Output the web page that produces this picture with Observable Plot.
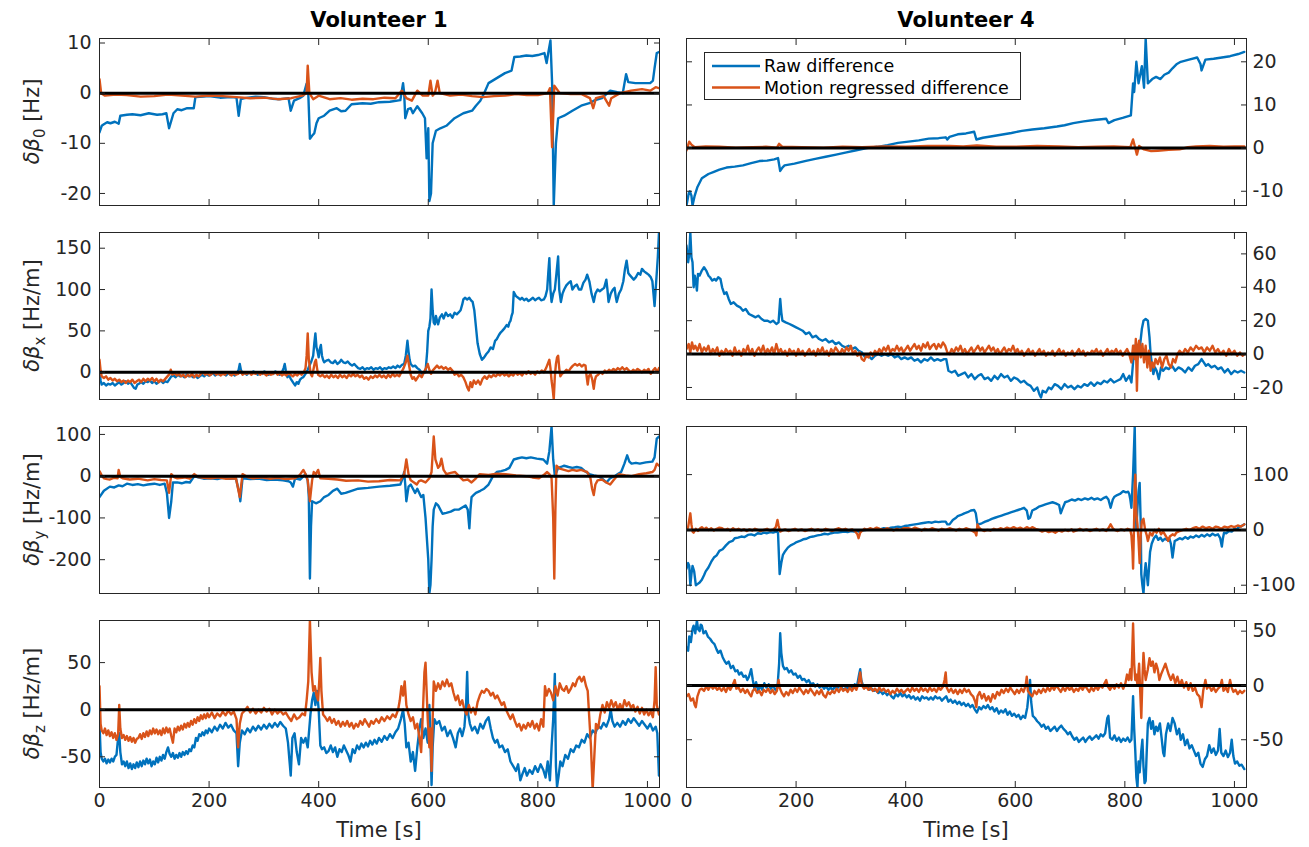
<!DOCTYPE html>
<html><head><meta charset="utf-8">
<script src="https://cdn.jsdelivr.net/npm/d3@7"></script>
<script src="https://cdn.jsdelivr.net/npm/@observablehq/plot@0.6"></script>
<style>
body{margin:0;background:#fff;}
#chart{position:relative;width:1309px;height:847px;font-family:"DejaVu Sans",sans-serif;color:#262626;overflow:hidden;}
#chart svg{position:absolute;overflow:visible;}
</style></head><body><div id="chart"></div>
<script>
// ---------- data: [time (s), value] ----------
const timeTicks = [0, 200, 400, 600, 800, 1000];
const seriesNames = ["Raw difference", "Motion regressed difference"];
const volunteers = ["Volunteer 1", "Volunteer 4"];
const yLabels = [["0", "Hz"], ["x", "Hz/m"], ["y", "Hz/m"], ["z", "Hz/m"]];

// Volunteer 1, delta beta0 [Hz]
const v1_b0_raw = [[0,-7.8],[4,-6.5],[8,-6.2],[14,-5.8],[20,-6.0],[28,-5.7],[35,-6.1],[38,-4.5],[50,-4.3],[60,-4.2],[75,-4.4],[90,-4.0],[105,-4.3],[115,-4.2],[122,-4.0],[127,-7.0],[131,-5.5],[135,-4.0],[142,-3.2],[150,-3.4],[160,-3.0],[172,-3.0],[175,-0.8],[190,-0.7],[200,-0.6],[220,-0.9],[240,-0.8],[250,-0.9],[254,-4.5],[258,-1.2],[265,-1.0],[285,-0.7],[300,-0.8],[315,-1.1],[330,-1.2],[345,-1.0],[349,-3.5],[355,-1.5],[365,-1.0],[372,-0.5],[378,1.9],[381,0],[384,-9.1],[388,-8.5],[392,-8.0],[396,-6.0],[400,-5.0],[410,-4.5],[420,-3.5],[433,-3.0],[441,-3.6],[449,-3.5],[460,-2.2],[480,-2.0],[495,-2.1],[510,-1.8],[530,-1.7],[549,-1.4],[554,2.0],[556,0],[558,-5.0],[563,-3.2],[568,-3.0],[572,-4.0],[580,-2.6],[589,-4.0],[594,-5],[597,-13],[600,-7],[602,-21.5],[605,-20],[608,-10],[614,-7.5],[622,-7],[633,-6.5],[648,-5],[664,-4],[680,-3.5],[687,-2.5],[695,-1.5],[702,0],[710,2],[725,3],[740,4],[752,4.5],[757,7.2],[768,7.3],[779,7.5],[790,7.4],[800,7.6],[812,8.0],[816,6],[819,8],[823,10.5],[826,2],[829,-22.4],[833,-10],[837,-5],[848,-4.5],[863,-3.5],[879,-2.5],[894,-2],[902,-1.5],[917,-1],[932,0.5],[945,0.2],[955,0],[961,3.8],[965,2.2],[978,2.0],[990,2.0],[1005,2.0],[1010,2.5],[1013,5],[1017,8],[1021,8.2]];
const v1_b0_reg = [[0,2.8],[3,0],[10,-0.5],[30,-0.3],[50,-0.4],[75,-0.7],[100,-0.6],[125,-0.3],[150,-0.5],[175,-0.7],[200,-0.5],[225,-0.6],[250,-0.8],[275,-1.0],[300,-0.9],[325,-1.2],[350,-1],[370,-0.5],[378,0],[380,5.5],[383,0],[390,-1.2],[400,-0.5],[420,-1.2],[440,-1.0],[460,-1.3],[480,-1.1],[500,-1.2],[520,-0.9],[540,-1.0],[552,0.5],[560,-1],[570,-1.5],[580,0.5],[590,-0.5],[600,-0.5],[604,2.5],[608,-0.5],[612,0],[617,2.5],[621,0],[640,-0.5],[660,-0.3],[680,-0.6],[700,-0.8],[720,-0.6],[740,-0.5],[760,-0.2],[780,-0.4],[800,-0.4],[818,0],[822,1],[826,-10.8],[830,1.5],[840,0],[860,-0.2],[880,-0.2],[895,-1.0],[901,-3],[906,-1],[920,-0.6],[930,-2.5],[934,-1],[950,0],[970,0.5],[990,0.8],[1005,0.5],[1015,1.2],[1021,1.0]];

// Volunteer 4, delta beta0 [Hz]
const v4_b0_raw = [[0,-13.3],[4,-10.5],[6,-10],[9,-11],[11,-13.3],[15,-11],[20,-9],[28,-7],[40,-6],[50,-5.5],[60,-5.0],[73,-4.5],[88,-4.3],[103,-4],[118,-3.5],[133,-3],[147,-2.9],[160,-2.6],[167,-2.3],[171,-5.3],[175,-4.5],[179,-4],[197,-3.6],[216,-3],[235,-2.5],[254,-2],[273,-1.5],[292,-1],[310,-0.5],[329,0],[348,0.3],[367,0.7],[386,1.2],[405,1.5],[424,1.8],[442,2.2],[460,2.3],[473,2.5],[476,2],[480,2.6],[495,3.2],[510,3.4],[525,3.8],[529,2],[541,2.4],[555,2.7],[574,3.1],[593,3.5],[612,4.0],[631,4.3],[653,4.6],[676,5],[690,5.3],[706,5.8],[725,6.2],[744,6.5],[766,6.8],[770,5.8],[781,6.5],[796,7.0],[811,7.6],[815,15],[817,13],[821,20],[825,15],[831,19],[835,14],[838,25.4],[842,15],[850,16],[857,16.5],[865,16],[872,17],[880,17.5],[887,18.5],[895,19.5],[902,20],[917,20.5],[932,21],[938,19.5],[940,18],[947,20.5],[962,20.7],[977,21],[992,21.3],[1007,21.8],[1018,22.3]];
const v4_b0_reg = [[0,-0.5],[5,1.5],[9,0.8],[15,0.2],[35,0.4],[60,0.3],[90,0.1],[120,0.2],[145,0.3],[165,0.1],[169,1.0],[175,0.3],[210,0.2],[250,0.1],[285,0.3],[320,0.2],[360,0.4],[400,0.3],[440,0.5],[480,0.5],[505,0.4],[530,0.6],[565,0.3],[600,0.3],[640,0.5],[680,0.4],[715,0.2],[750,0.3],[780,0.4],[810,0.2],[815,2],[818,0.5],[822,-1.5],[826,0.5],[835,-0.3],[848,-0.7],[860,-0.6],[880,-0.4],[900,-0.3],[915,0.2],[930,0.4],[955,0.5],[980,0.3],[1000,0.4],[1018,0.4]];

// Volunteer 1, delta beta_x [Hz/m]
const v1_bx_raw = [[0,3],[2,-10],[4,-15],[8,-13],[12,-16],[16,-14],[20,-15],[24,-13],[28,-16],[32,-14],[36,-12],[40,-15],[44,-13],[48,-11],[52,-14],[56,-12],[60,-16],[63,-19],[66,-20],[69,-15],[72,-14],[76,-12],[80,-14],[84,-11],[88,-12],[92,-10],[96,-13],[100,-11],[104,-14],[108,-12],[112,-10],[116,-13],[120,-11],[124,-12],[128,-8],[131,-5],[135,-4],[139,-6],[143,-3],[147,-5],[151,-4],[155,-6],[159,-3],[163,-5],[167,-4],[171,-6],[175,-4],[179,-7],[183,-5],[187,-3],[191,-5],[195,-2],[199,-4],[203,-3],[207,-1],[211,-4],[215,-2],[219,-3],[223,0],[227,-2],[231,-4],[235,-1],[239,-3],[243,-2],[247,-4],[251,-1],[254,3],[256,10],[258,3],[261,-2],[265,-1],[269,-3],[273,0],[277,-2],[281,1],[285,-1],[289,-3],[293,0],[297,-2],[301,1],[305,-1],[309,-3],[313,0],[317,-2],[321,1],[325,-1],[329,-3],[333,0],[336,5],[338,10],[340,2],[343,-6],[346,-4],[349,-8],[352,-11],[355,-14],[357,-16],[360,-12],[363,-14],[366,-9],[369,-7],[372,-6],[376,-2],[380,3],[383,8],[386,12],[390,20],[392,35],[394,47],[396,30],[398,25],[400,18],[402,28],[404,33],[406,20],[408,15],[410,12],[414,14],[418,15],[422,12],[426,11],[430,14],[434,10],[438,12],[441,15],[445,12],[449,11],[453,13],[457,10],[461,8],[465,10],[469,7],[472,5],[476,4],[480,6],[484,3],[488,5],[492,4],[496,6],[500,3],[504,5],[508,4],[512,6],[516,3],[520,5],[524,4],[528,6],[532,5],[536,7],[540,5],[544,8],[548,6],[552,9],[556,10],[559,20],[562,38],[564,25],[566,15],[568,10],[572,7],[576,8],[580,5],[584,3],[587,0],[589,-2],[592,-1],[595,0],[598,25],[600,50],[602,55],[604,65],[606,100],[608,75],[610,60],[612,58],[614,68],[616,62],[618,58],[621,66],[625,70],[628,65],[632,72],[636,68],[640,70],[644,66],[648,72],[652,70],[655,72],[659,75],[662,82],[664,88],[667,90],[671,88],[675,90],[678,87],[681,85],[684,75],[687,55],[690,35],[694,22],[698,15],[702,18],[706,22],[710,25],[714,30],[718,28],[722,38],[725,40],[729,45],[732,48],[735,50],[739,53],[743,57],[746,55],[748,60],[750,62],[752,68],[754,72],[756,97],[760,92],[764,90],[768,88],[771,90],[775,87],[779,89],[783,86],[787,88],[791,90],[795,87],[799,89],[802,90],[806,87],[811,88],[814,92],[817,100],[819,120],[821,138],[823,100],[825,85],[828,95],[831,100],[834,120],[837,140],[839,100],[842,85],[845,95],[848,100],[852,105],[856,108],[860,110],[863,100],[867,104],[871,106],[875,100],[879,100],[883,108],[887,112],[890,118],[894,110],[898,95],[902,85],[905,95],[909,100],[913,98],[917,100],[921,102],[925,112],[927,100],[929,85],[933,95],[937,100],[940,102],[942,92],[944,85],[948,95],[952,100],[956,110],[959,125],[962,135],[965,120],[967,118],[971,115],[975,112],[979,115],[983,120],[987,118],[990,125],[994,122],[998,120],[1002,118],[1006,115],[1009,110],[1011,95],[1013,80],[1015,100],[1017,120],[1019,140],[1021,168]];
const v1_bx_reg = [[0,15],[2,2],[4,-5],[8,-7],[12,-5],[16,-9],[20,-7],[24,-10],[28,-8],[32,-11],[36,-9],[40,-12],[44,-10],[48,-13],[52,-10],[56,-12],[60,-9],[64,-13],[68,-11],[72,-9],[76,-12],[80,-8],[84,-11],[88,-8],[92,-10],[96,-7],[100,-11],[104,-8],[108,-12],[112,-9],[116,-11],[120,-8],[124,-5],[128,-2],[130,3],[133,-3],[137,-1],[141,-4],[145,-2],[149,-5],[153,-3],[157,-6],[161,-3],[165,-5],[169,-2],[173,-6],[177,-3],[181,-5],[185,-2],[189,0],[193,-3],[197,-1],[201,-4],[205,-2],[209,0],[213,-3],[217,-1],[221,-4],[225,-2],[229,-3],[233,0],[237,-2],[241,-4],[245,-1],[249,-3],[253,-2],[257,1],[261,-3],[265,-1],[269,-2],[273,0],[277,-3],[281,-1],[285,-2],[289,0],[293,-3],[297,-1],[301,-2],[305,-4],[309,-1],[313,-3],[317,-2],[321,0],[325,-3],[329,-1],[333,-4],[337,-2],[341,-4],[345,-1],[349,-3],[353,-5],[357,-2],[361,-4],[365,-1],[369,-3],[373,0],[376,5],[378,20],[380,47],[382,15],[384,5],[386,-3],[388,-5],[391,5],[393,12],[395,15],[397,5],[399,-3],[403,-5],[407,-3],[411,-6],[415,-4],[419,-7],[423,-3],[427,-6],[431,-4],[435,-7],[439,-3],[443,-6],[447,-4],[451,-7],[455,-3],[459,-5],[463,-2],[467,-5],[471,-3],[475,-6],[479,-4],[483,-8],[487,-6],[491,-9],[495,-5],[499,-7],[503,-4],[507,-6],[511,-3],[515,-6],[519,-4],[523,-7],[527,-3],[531,-6],[535,-2],[539,-5],[543,-3],[547,-5],[551,0],[555,5],[559,12],[562,20],[565,8],[568,-3],[571,-8],[574,-6],[577,-10],[580,-7],[584,-3],[588,-6],[592,0],[596,5],[599,10],[602,3],[605,-2],[608,2],[612,5],[616,8],[620,5],[624,7],[628,4],[632,6],[636,3],[640,5],[644,2],[648,-3],[652,-1],[656,-5],[660,-3],[664,-6],[668,-12],[671,-18],[674,-22],[677,-12],[680,-18],[683,-10],[687,-14],[691,-10],[695,-15],[699,-8],[703,-5],[707,-8],[711,-4],[715,-6],[719,-3],[723,-5],[727,-2],[731,-4],[735,-1],[739,-4],[743,-2],[747,-5],[751,-2],[755,-4],[759,0],[763,-3],[767,-1],[771,-4],[775,0],[779,-2],[783,1],[787,-2],[791,0],[795,-3],[799,1],[803,-1],[807,2],[811,0],[815,5],[818,10],[821,15],[823,5],[825,-10],[827,-20],[829,-33],[831,-5],[833,10],[835,18],[837,20],[839,5],[841,-5],[844,-2],[848,0],[852,3],[856,1],[860,5],[864,8],[868,10],[872,8],[876,10],[880,7],[884,9],[887,8],[889,-5],[891,-15],[893,-5],[896,-2],[899,-8],[902,-20],[904,-10],[906,-5],[910,-3],[914,0],[918,-2],[922,2],[926,0],[930,3],[934,1],[938,4],[942,2],[946,5],[950,3],[954,6],[958,3],[962,5],[966,2],[970,0],[974,3],[978,1],[982,4],[986,2],[990,0],[994,3],[998,1],[1002,4],[1006,-2],[1010,2],[1014,5],[1018,0],[1021,5]];

// Volunteer 4, delta beta_x [Hz/m]
const v4_bx_raw = [[0,65],[3,55],[5,60],[7,72.8],[9,58],[11,55],[13,40],[15,47],[17,44],[19,38],[21,48],[24,47],[28,50],[32,52],[36,50],[40,47],[43,46],[47,44],[51,45],[54,44],[58,46],[62,45],[65,40],[69,36],[73,37],[77,33],[81,30],[86,31],[92,29],[98,28],[103,26],[108,27],[114,24],[120,23],[126,22],[131,23],[137,21],[142,20],[148,20],[153,19],[158,20],[164,18],[168,19],[171,33],[173,25],[175,20],[181,19],[188,18],[194,17],[200,16],[206,15],[212,14],[218,12],[224,13],[230,10],[236,11],[242,9],[248,8],[254,9],[260,7],[266,8],[272,6],[278,7],[284,5],[290,4],[296,5],[302,3],[308,4],[314,2],[320,1],[326,-2],[332,-1],[338,-3],[344,-1],[350,0],[356,-1],[362,0],[368,-1],[374,0],[380,-2],[386,-1],[392,-3],[398,-2],[404,-3],[410,-2],[416,-4],[422,-3],[428,-5],[434,-3],[440,-4],[446,-2],[452,-4],[458,-3],[464,-4],[470,-3],[474,-3],[478,-10],[484,-11],[490,-10],[496,-13],[502,-12],[508,-11],[514,-14],[520,-12],[526,-15],[532,-13],[538,-12],[544,-15],[550,-14],[556,-16],[562,-13],[568,-15],[574,-12],[580,-14],[586,-13],[592,-16],[598,-14],[604,-15],[610,-17],[616,-16],[622,-18],[628,-19],[634,-22],[640,-20],[644,-24],[647,-26],[650,-22],[656,-23],[661,-20],[666,-21],[672,-18],[678,-19],[684,-21],[690,-18],[696,-20],[702,-19],[708,-21],[714,-19],[720,-20],[726,-18],[732,-19],[738,-17],[744,-19],[750,-17],[756,-18],[762,-16],[768,-17],[774,-15],[780,-17],[786,-16],[792,-15],[797,-12],[802,-16],[808,-13],[812,-17],[815,-5],[817,5],[820,0],[823,-3],[827,3],[831,15],[834,20],[838,21],[842,20],[845,10],[847,0],[849,-5],[852,-12],[855,-8],[858,-10],[862,-15],[866,-8],[870,-10],[875,-8],[880,-9],[886,-7],[892,-10],[898,-8],[904,-9],[910,-11],[916,-8],[922,-10],[928,-7],[934,-6],[940,-3],[944,-5],[948,-7],[952,-6],[958,-8],[964,-7],[970,-9],[976,-8],[982,-11],[988,-9],[994,-12],[1000,-10],[1006,-11],[1012,-10],[1018,-11]];
const v4_bx_reg = [[0,3],[4,6],[7,1],[10,7],[13,3],[16,5],[20,2],[24,6],[28,1],[32,4],[36,2],[40,5],[44,0],[48,3],[52,1],[56,4],[60,-1],[64,2],[68,0],[72,3],[76,1],[80,2],[84,-1],[88,4],[92,0],[96,2],[100,-1],[104,3],[108,1],[112,5],[116,0],[120,3],[124,-1],[128,2],[132,4],[136,1],[140,5],[144,0],[148,3],[152,1],[156,4],[160,0],[164,6],[168,1],[172,3],[176,0],[180,2],[184,-1],[188,3],[192,1],[196,2],[200,-1],[204,3],[208,0],[212,2],[216,-1],[220,1],[224,3],[228,0],[232,2],[236,-1],[240,3],[244,1],[248,4],[252,0],[256,2],[260,-1],[264,3],[268,1],[272,4],[276,2],[280,0],[284,3],[288,1],[292,4],[296,2],[300,5],[304,0],[308,2],[312,-1],[316,1],[320,-3],[324,-4],[328,-1],[332,-2],[336,1],[340,-1],[344,2],[348,0],[352,3],[356,1],[360,4],[364,2],[368,5],[372,1],[376,3],[380,2],[384,5],[388,2],[392,4],[396,1],[400,3],[404,5],[408,2],[412,4],[416,6],[420,3],[424,5],[428,2],[432,6],[436,4],[440,7],[444,3],[448,5],[452,6],[456,3],[460,6],[464,4],[468,7],[472,5],[476,1],[480,0],[484,3],[488,1],[492,4],[496,2],[500,5],[504,1],[508,3],[512,0],[516,2],[520,4],[524,1],[528,3],[532,5],[536,2],[540,4],[544,1],[548,3],[552,5],[556,2],[560,4],[564,1],[568,3],[572,0],[576,2],[580,4],[584,1],[588,3],[592,2],[596,5],[600,1],[604,3],[608,0],[612,2],[616,-1],[620,1],[624,3],[628,0],[632,2],[636,-1],[640,1],[644,3],[648,0],[652,2],[656,-1],[660,1],[664,0],[668,2],[672,-1],[676,1],[680,3],[684,0],[688,2],[692,-1],[696,1],[700,0],[704,2],[708,-1],[712,1],[716,3],[720,0],[724,2],[728,-1],[732,1],[736,0],[740,2],[744,1],[748,3],[752,0],[756,2],[760,-1],[764,1],[768,3],[772,0],[776,2],[780,1],[784,3],[788,0],[792,2],[796,-1],[800,1],[804,3],[808,0],[812,-5],[815,5],[818,-3],[820,9],[822,-22],[824,5],[826,8],[829,-2],[832,6],[835,-5],[838,5],[841,-8],[844,2],[847,-10],[850,-5],[853,-8],[856,-3],[860,-6],[864,-2],[868,-8],[872,-3],[876,-1],[880,-6],[884,-8],[888,-3],[892,-5],[896,0],[900,2],[905,0],[910,3],[915,1],[920,4],[925,2],[930,5],[935,3],[940,4],[945,1],[950,4],[955,2],[960,5],[965,1],[970,3],[975,0],[980,2],[985,-1],[990,3],[995,0],[1000,2],[1005,-1],[1010,1],[1015,-1],[1018,0]];

// Volunteer 1, delta beta_y [Hz/m]
const v1_by_raw = [[0,-50],[8,-35],[19,-25],[27,-27],[35,-22],[42,-24],[50,-18],[60,-21],[70,-19],[80,-22],[88,-20],[100,-18],[110,-21],[119,-18],[123,-40],[127,-100],[131,-60],[134,-15],[142,-15],[150,-17],[158,-14],[165,-15],[173,0],[180,-3],[190,-6],[203,-5],[215,-7],[225,-4],[237,-6],[249,-5],[255,-40],[257,-60],[261,-5],[275,-7],[290,-6],[305,-9],[319,-8],[335,-10],[345,-12],[349,-15],[353,-25],[357,-5],[366,-8],[376,5],[380,-10],[382,-50],[384,-245],[386,-120],[388,-60],[395,-65],[403,-60],[410,-50],[418,-45],[426,-35],[434,-30],[441,-42],[449,-40],[460,-35],[472,-30],[490,-28],[510,-25],[530,-23],[549,-20],[553,-5],[556,10],[558,-20],[560,-60],[564,-25],[568,-20],[572,-30],[576,-40],[580,-30],[587,-50],[591,-45],[595,-100],[598,-160],[600,-200],[602,-281],[604,-260],[606,-200],[608,-120],[610,-80],[614,-65],[618,-70],[622,-80],[626,-90],[633,-88],[641,-85],[648,-80],[656,-80],[662,-75],[668,-70],[672,-80],[675,-125],[677,-80],[679,-50],[683,-45],[687,-40],[695,-35],[702,-30],[710,-20],[714,-10],[718,0],[725,10],[733,12],[741,15],[748,20],[756,40],[764,43],[771,45],[779,43],[787,45],[798,42],[810,40],[817,30],[821,60],[825,119],[828,40],[831,0],[834,10],[837,20],[842,22],[848,25],[856,22],[863,20],[871,22],[879,20],[886,12],[894,5],[902,2],[909,0],[917,-5],[925,-15],[932,-5],[940,0],[946,5],[952,10],[958,30],[963,50],[967,35],[971,30],[979,32],[986,30],[997,33],[1009,35],[1013,45],[1017,90],[1021,95]];
const v1_by_reg = [[0,12],[4,2],[8,-5],[14,-7],[19,-8],[26,-4],[33,-5],[35,15],[38,-2],[42,-5],[55,-8],[70,-6],[88,-10],[100,-7],[112,-9],[123,-10],[127,-40],[131,5],[136,-2],[142,-5],[155,-3],[165,-6],[173,5],[180,-2],[190,-4],[203,-5],[215,-3],[230,-6],[249,-5],[256,-50],[261,5],[270,-2],[280,-5],[295,-3],[310,-6],[325,-4],[340,-7],[357,-5],[365,2],[372,15],[376,5],[380,-10],[384,-60],[388,-10],[391,10],[395,5],[399,15],[403,-5],[418,-6],[434,-8],[450,-11],[472,-10],[490,-13],[510,-12],[530,-9],[549,-10],[556,5],[560,40],[564,5],[568,-10],[574,-15],[579,-20],[583,-12],[587,-10],[595,-15],[602,-5],[606,10],[610,95],[613,40],[618,20],[621,25],[624,42],[628,15],[633,5],[641,8],[649,10],[656,0],[664,-10],[672,-8],[679,-15],[687,-5],[694,5],[710,3],[725,6],[741,5],[760,2],[779,0],[790,-3],[802,-5],[810,2],[817,10],[821,5],[825,-5],[828,-100],[830,-245],[832,-80],[834,25],[840,18],[848,15],[856,12],[863,15],[871,13],[879,15],[885,12],[890,10],[896,-5],[899,-30],[902,-45],[905,-20],[909,-10],[917,-8],[925,-15],[932,-20],[938,-10],[943,-2],[948,5],[960,2],[971,0],[985,5],[998,7],[1009,10],[1013,15],[1017,30],[1021,25]];

// Volunteer 4, delta beta_y [Hz/m]
const v4_by_raw = [[0,-70],[3,-60],[5,-65],[7,-100],[9,-80],[11,-65],[14,-75],[17,-100],[20,-98],[24,-95],[28,-90],[32,-82],[35,-75],[40,-68],[45,-58],[50,-50],[55,-46],[60,-38],[66,-35],[72,-28],[78,-22],[84,-20],[88,-15],[94,-14],[100,-12],[106,-13],[112,-9],[118,-8],[124,-10],[130,-6],[136,-7],[141,-5],[147,-6],[153,-4],[158,-5],[164,-3],[167,-5],[170,-80],[173,-60],[176,-45],[179,-40],[185,-32],[190,-28],[196,-25],[201,-22],[207,-20],[213,-17],[219,-16],[225,-13],[231,-12],[239,-10],[245,-9],[252,-7],[258,-8],[264,-6],[270,-5],[276,-5],[282,-4],[288,-3],[294,-4],[300,-2],[306,-3],[312,-1],[314,-3],[320,-1],[329,0],[335,1],[341,0],[347,2],[353,1],[360,3],[367,2],[373,4],[380,5],[386,6],[392,5],[398,7],[405,8],[411,9],[417,10],[423,11],[429,12],[435,13],[442,14],[448,13],[454,15],[460,14],[466,15],[473,15],[476,10],[480,10],[486,18],[492,22],[495,25],[501,27],[507,30],[513,32],[519,35],[525,36],[528,30],[531,10],[533,10],[539,12],[545,15],[551,17],[557,20],[563,22],[569,24],[575,26],[581,28],[587,30],[593,32],[599,34],[605,36],[611,38],[616,40],[621,35],[624,20],[627,22],[631,35],[637,38],[643,42],[649,44],[655,46],[661,48],[668,50],[674,48],[680,45],[683,30],[686,38],[691,50],[697,52],[703,55],[709,53],[715,56],[721,54],[727,57],[733,55],[739,58],[744,55],[750,57],[756,54],[762,58],[766,60],[770,55],[774,40],[778,55],[781,60],[786,63],[791,65],[797,70],[802,68],[806,69],[808,65],[810,55],[812,40],[815,100],[818,187],[820,50],[821,0],[823,40],[825,70],[827,85],[829,10],[830,-80],[832,-100],[834,-115],[836,-80],[838,-60],[840,-80],[842,-100],[844,-70],[846,-40],[849,-25],[853,-15],[857,-10],[861,-18],[865,-14],[869,-20],[873,-16],[877,-18],[881,-15],[884,-25],[887,-50],[889,-35],[891,-20],[895,-18],[900,-15],[905,-17],[910,-13],[915,-16],[920,-12],[925,-14],[930,-10],[935,-13],[940,-9],[945,-12],[950,-8],[955,-11],[960,-7],[965,-10],[970,-8],[974,-15],[977,-30],[979,-15],[981,-5],[985,-6],[990,-2],[995,-3],[1000,2],[1004,1],[1008,5],[1013,7],[1018,10]];
const v4_by_reg = [[0,0],[3,5],[5,18],[7,30],[9,10],[11,-3],[13,-5],[17,2],[21,-2],[25,3],[28,5],[32,1],[36,4],[40,0],[45,3],[50,-1],[55,2],[60,4],[65,3],[70,0],[75,2],[80,-1],[85,3],[90,0],[95,2],[100,-1],[105,1],[110,-2],[115,1],[120,-1],[125,2],[130,0],[135,-2],[141,0],[147,2],[153,-1],[159,1],[163,5],[166,18],[168,8],[171,-3],[175,-1],[180,1],[186,-2],[192,0],[198,2],[204,-1],[210,1],[216,-2],[222,0],[228,2],[234,-1],[240,1],[246,-2],[254,2],[260,0],[266,-2],[272,1],[278,3],[284,0],[290,2],[296,-1],[302,1],[308,-3],[312,-8],[314,-15],[317,-5],[321,-1],[325,2],[329,0],[335,3],[341,1],[347,4],[353,2],[360,0],[366,3],[372,1],[378,-1],[384,2],[390,0],[396,3],[405,3],[411,1],[417,4],[423,2],[429,-1],[435,2],[442,0],[448,3],[454,1],[460,-1],[466,2],[473,0],[480,3],[486,1],[492,-1],[498,2],[504,0],[510,3],[516,1],[522,-2],[527,-5],[529,-10],[531,10],[533,5],[537,1],[543,-2],[549,0],[555,-1],[561,2],[567,0],[573,3],[579,1],[585,4],[591,2],[597,5],[603,2],[609,4],[615,1],[621,5],[627,2],[631,5],[637,2],[643,0],[649,-3],[655,-1],[661,-4],[667,-2],[673,-5],[679,-1],[685,-3],[691,0],[697,-2],[703,1],[706,-3],[712,-1],[718,2],[724,-1],[730,1],[736,-2],[742,0],[748,2],[754,-1],[760,1],[766,-2],[770,3],[774,10],[778,3],[781,0],[787,-2],[793,1],[799,-1],[805,2],[810,0],[812,-10],[814,-40],[815,-70],[817,20],[818,80],[819,100],[821,30],[823,10],[825,-20],[827,-60],[829,-10],[831,15],[834,20],[837,0],[840,-10],[842,-20],[846,-5],[850,-10],[854,0],[858,-5],[862,2],[866,-8],[870,-3],[874,-10],[877,-15],[879,-20],[882,-12],[887,-8],[891,-10],[894,-5],[900,-2],[906,0],[912,2],[918,0],[924,3],[930,5],[936,2],[942,6],[948,3],[954,5],[960,2],[966,6],[970,5],[976,2],[982,6],[988,4],[994,7],[1000,5],[1006,8],[1012,6],[1018,10]];

// Volunteer 1, delta beta_z [Hz/m]
const v1_bz_raw = [[0,-15],[2,-45],[4,-52],[7,-55],[10,-52],[13,-57],[16,-53],[19,-56],[22,-52],[25,-55],[28,-50],[31,-48],[34,-30],[36,-25],[38,-45],[41,-58],[44,-55],[47,-60],[50,-55],[53,-62],[56,-57],[59,-63],[62,-58],[65,-62],[68,-56],[71,-61],[74,-55],[77,-60],[80,-54],[83,-58],[86,-52],[89,-57],[92,-53],[95,-60],[98,-55],[101,-58],[104,-51],[107,-56],[110,-50],[113,-54],[116,-48],[119,-52],[122,-45],[125,-40],[128,-47],[131,-50],[134,-46],[137,-52],[140,-48],[143,-51],[146,-46],[149,-50],[152,-45],[155,-48],[158,-44],[161,-47],[164,-42],[167,-44],[170,-38],[173,-40],[176,-30],[179,-33],[182,-26],[185,-28],[188,-24],[191,-27],[194,-22],[197,-25],[200,-20],[205,-24],[210,-18],[215,-22],[220,-16],[225,-20],[230,-14],[235,-19],[240,-16],[245,-22],[250,-25],[253,-60],[256,-35],[260,-22],[265,-26],[270,-20],[275,-24],[280,-18],[285,-22],[290,-17],[295,-21],[300,-16],[305,-20],[310,-15],[315,-19],[320,-14],[325,-18],[330,-13],[335,-17],[340,-20],[344,-35],[349,-70],[352,-30],[356,-25],[360,-45],[364,-58],[368,-30],[372,-35],[376,-30],[380,-40],[385,-5],[388,10],[391,18],[394,5],[397,20],[400,0],[403,-38],[406,-42],[410,-40],[414,-46],[418,-44],[422,-38],[426,-45],[430,-40],[434,-50],[438,-42],[442,-45],[446,-38],[450,-43],[454,-48],[458,-55],[462,-42],[466,-46],[470,-38],[474,-42],[478,-36],[482,-40],[486,-35],[490,-39],[494,-33],[498,-37],[502,-32],[506,-36],[510,-30],[515,-34],[520,-28],[525,-32],[530,-26],[535,-30],[540,-24],[545,-20],[550,-10],[554,0],[557,-15],[560,-40],[564,-35],[568,-55],[572,-45],[576,-65],[580,-40],[584,-20],[587,-10],[591,-30],[595,-20],[599,-35],[602,5],[604,-30],[606,-80],[608,-40],[611,-10],[615,-15],[620,-12],[625,-22],[630,-18],[635,-28],[640,-22],[645,-30],[650,-40],[654,-25],[658,-20],[662,-28],[666,-18],[669,5],[671,40],[673,-5],[676,-15],[680,-22],[685,-18],[690,-25],[695,-15],[700,-20],[705,-12],[710,-8],[714,-20],[718,-30],[722,-35],[726,-32],[730,-40],[735,-38],[740,-45],[745,-42],[750,-55],[755,-60],[760,-65],[764,-58],[768,-75],[772,-68],[776,-62],[780,-70],[785,-64],[790,-68],[795,-60],[800,-66],[805,-58],[810,-64],[814,-72],[818,-55],[822,-75],[825,-40],[828,-10],[831,38],[833,-60],[835,-82],[838,-70],[841,-55],[845,-60],[850,-48],[855,-52],[860,-42],[865,-45],[870,-38],[875,-40],[880,-32],[885,-35],[890,-26],[895,-30],[900,-22],[905,-25],[910,-17],[915,-20],[920,-14],[925,-18],[930,-10],[933,0],[936,-12],[940,-18],[945,-14],[950,-18],[955,-12],[960,-16],[965,-10],[970,-14],[975,-9],[980,-13],[985,-17],[990,-12],[995,-16],[1000,-20],[1005,-15],[1010,-22],[1015,-18],[1018,-25],[1021,-70]];
const v1_bz_reg = [[0,25],[2,-15],[4,-22],[7,-25],[10,-20],[13,-27],[16,-22],[19,-28],[22,-24],[25,-30],[28,-25],[31,-32],[34,-26],[36,5],[38,-20],[41,-30],[44,-27],[47,-32],[50,-28],[53,-33],[56,-29],[59,-34],[62,-30],[65,-35],[68,-31],[71,-30],[74,-26],[77,-31],[80,-25],[83,-29],[86,-23],[89,-28],[92,-22],[95,-26],[98,-20],[101,-25],[104,-21],[107,-26],[110,-22],[113,-27],[116,-20],[119,-25],[122,-19],[125,-24],[128,-20],[131,-28],[134,-35],[137,-20],[140,-24],[143,-18],[146,-22],[149,-17],[152,-21],[155,-15],[158,-19],[161,-14],[164,-18],[167,-12],[170,-16],[173,-10],[176,-14],[179,-8],[182,-12],[185,-6],[188,-10],[191,-5],[194,-9],[197,-4],[200,-8],[205,-3],[210,-9],[215,-4],[220,-7],[225,-2],[230,-6],[235,-1],[240,-5],[245,-2],[250,-10],[253,-40],[256,-15],[260,-4],[265,-1],[270,3],[275,-3],[280,1],[285,-4],[290,0],[295,-3],[300,2],[305,-2],[310,1],[315,-5],[320,0],[325,-4],[330,-1],[335,-5],[340,-3],[345,-8],[350,-12],[355,-5],[360,-10],[365,-8],[370,-4],[375,-6],[378,10],[381,30],[384,95],[387,40],[390,20],[393,25],[396,15],[399,10],[401,30],[403,55],[405,20],[408,-5],[412,-8],[416,-12],[420,-8],[424,-14],[428,-10],[432,-16],[436,-12],[440,-18],[444,-13],[448,-17],[452,-12],[456,-18],[460,-14],[464,-20],[468,-15],[472,-18],[476,-12],[480,-16],[484,-10],[488,-14],[492,-18],[496,-12],[500,-15],[505,-10],[510,-14],[515,-8],[520,-12],[525,-7],[530,-10],[535,-5],[540,-8],[545,0],[548,10],[551,25],[554,15],[557,30],[560,5],[564,-5],[568,-12],[572,-8],[576,-20],[580,-15],[584,-30],[587,-45],[590,-5],[593,40],[595,50],[597,20],[599,-10],[602,-40],[604,-20],[606,-65],[608,-10],[610,30],[614,20],[618,28],[622,22],[626,30],[630,25],[634,32],[638,25],[642,28],[646,18],[650,10],[654,15],[658,5],[662,10],[666,0],[670,-5],[674,5],[678,-3],[682,2],[686,-5],[690,8],[694,15],[698,20],[702,18],[706,22],[710,20],[714,15],[718,18],[722,12],[726,15],[730,10],[734,5],[738,8],[742,0],[746,-5],[750,-10],[754,-5],[758,-12],[762,-18],[766,-15],[770,-22],[774,-16],[778,-20],[782,-14],[786,-18],[790,-12],[794,-20],[798,-15],[802,-22],[806,-10],[810,-18],[813,25],[816,15],[820,22],[824,18],[828,10],[832,25],[836,15],[840,28],[844,22],[848,20],[852,25],[856,18],[860,22],[864,28],[868,25],[872,32],[876,35],[880,30],[884,35],[888,25],[891,20],[894,-10],[897,-40],[900,-85],[903,-50],[906,-15],[910,-20],[914,-5],[918,5],[922,-3],[926,8],[930,2],[934,10],[938,3],[942,8],[946,0],[950,6],[954,0],[958,10],[962,4],[966,8],[970,2],[974,5],[978,-2],[982,3],[986,-4],[990,2],[994,-5],[998,0],[1002,-6],[1006,-2],[1010,-8],[1013,10],[1015,45],[1017,5],[1021,-5]];

// Volunteer 4, delta beta_z [Hz/m]
const v4_bz_raw = [[0,35],[3,32],[5,45],[8,40],[11,52],[13,55],[16,48],[19,60],[21,52],[24,50],[26,56],[28,55],[31,48],[35,50],[39,45],[43,43],[47,40],[51,38],[55,33],[58,30],[62,32],[66,26],[70,22],[73,20],[77,22],[81,16],[85,18],[89,13],[93,14],[96,10],[100,12],[104,8],[108,9],[111,5],[114,8],[118,15],[121,5],[124,-3],[127,3],[131,-5],[134,0],[138,-4],[142,2],[146,-2],[150,1],[154,-3],[158,0],[162,-4],[166,-2],[169,20],[171,48],[173,30],[176,18],[179,15],[183,16],[187,12],[191,14],[195,10],[199,11],[203,7],[207,9],[211,5],[215,6],[219,3],[223,5],[227,1],[231,2],[235,-1],[239,1],[243,-2],[247,0],[251,-3],[255,-1],[259,-4],[263,-2],[267,-4],[271,-1],[275,-3],[279,0],[283,-2],[287,-4],[291,-2],[295,-3],[299,0],[303,-2],[307,1],[311,-1],[315,10],[317,15],[319,5],[322,0],[326,-2],[330,-1],[334,-4],[338,-3],[342,-5],[346,-4],[350,-7],[354,-5],[358,-8],[362,-6],[366,-9],[370,-7],[374,-10],[378,-12],[382,-8],[386,-10],[390,-7],[394,-10],[398,-8],[402,-11],[406,-9],[410,-12],[414,-10],[418,-13],[422,-11],[426,-14],[430,-10],[434,-12],[438,-11],[442,-13],[446,-11],[450,-13],[454,-10],[458,-12],[462,-11],[466,-14],[470,-12],[474,-10],[478,-15],[482,-13],[486,-16],[490,-14],[494,-17],[498,-15],[502,-18],[506,-16],[510,-19],[514,-17],[518,-20],[522,-18],[526,-22],[530,-25],[534,-20],[538,-22],[542,-19],[546,-21],[550,-18],[554,-22],[558,-20],[562,-24],[566,-21],[570,-26],[574,-23],[578,-25],[582,-22],[586,-27],[590,-24],[594,-28],[598,-26],[602,-29],[606,-27],[610,-31],[614,-28],[618,-30],[622,-20],[625,-5],[627,5],[629,-15],[632,-28],[636,-30],[640,-33],[644,-35],[648,-38],[652,-36],[656,-40],[660,-38],[664,-42],[668,-40],[672,-38],[676,-42],[680,-39],[684,-37],[688,-40],[692,-42],[696,-45],[700,-43],[704,-47],[708,-50],[712,-48],[716,-52],[720,-50],[724,-48],[728,-52],[732,-49],[736,-47],[740,-50],[744,-48],[748,-46],[752,-49],[756,-45],[760,-47],[764,-44],[768,-30],[770,-28],[773,-48],[777,-50],[781,-46],[785,-51],[789,-48],[793,-52],[797,-49],[801,-51],[805,-48],[809,-52],[812,-50],[815,-10],[817,-40],[819,-60],[821,-85],[823,-94],[825,-70],[827,-80],[830,-60],[832,-50],[834,-75],[836,-90],[838,-88],[840,-60],[842,-35],[845,-30],[848,-40],[851,-33],[854,-45],[857,-38],[860,-42],[864,-35],[867,-48],[870,-62],[872,-65],[875,-45],[879,-35],[883,-42],[887,-30],[891,-35],[895,-45],[899,-40],[902,-50],[906,-45],[910,-55],[914,-50],[918,-58],[922,-55],[926,-60],[930,-65],[934,-62],[938,-72],[942,-75],[946,-68],[950,-65],[954,-55],[958,-62],[962,-58],[966,-64],[970,-60],[973,-40],[976,-62],[980,-65],[984,-60],[988,-66],[992,-62],[995,-50],[998,-65],[1001,-72],[1005,-70],[1009,-74],[1013,-73],[1018,-77]];
const v4_bz_reg = [[0,-10],[4,-8],[8,-14],[12,-12],[15,-18],[17,-20],[20,-10],[24,-4],[28,-3],[32,-5],[36,-1],[40,-4],[44,0],[48,-3],[52,-1],[56,-4],[60,-2],[64,-5],[68,-2],[72,-6],[76,-1],[80,-4],[84,0],[88,5],[91,-3],[95,-2],[99,-6],[103,-3],[107,-7],[111,-4],[115,-8],[118,-10],[121,-5],[125,-3],[129,-7],[133,-5],[137,-9],[141,-4],[145,-6],[149,-3],[153,-7],[157,-4],[161,-8],[165,-5],[168,5],[170,-2],[174,-7],[178,-10],[182,-6],[186,-9],[190,-4],[194,-7],[198,-3],[202,-6],[206,-2],[210,-5],[214,-8],[218,-4],[222,-7],[226,-3],[230,-6],[234,-9],[238,-5],[242,-8],[246,-4],[250,-9],[254,-11],[258,-6],[262,-8],[266,-5],[270,-7],[274,-3],[278,-6],[282,-2],[286,-5],[290,-3],[294,-6],[298,-2],[302,-5],[306,-1],[310,-4],[314,2],[317,12],[320,0],[324,-3],[328,-1],[332,-4],[336,-2],[340,-5],[344,-3],[348,-6],[352,-2],[356,-5],[360,-3],[364,-6],[368,-4],[372,-8],[376,-5],[380,-7],[384,-3],[388,-6],[392,-4],[396,-7],[400,-5],[404,-3],[408,-6],[412,-2],[416,-5],[420,-3],[424,-6],[428,-2],[432,-5],[436,-3],[440,-6],[444,-2],[448,-5],[452,-3],[456,-6],[460,-2],[464,-4],[468,-1],[471,5],[473,12],[475,-2],[479,-6],[483,-3],[487,-7],[491,-4],[495,-8],[499,-4],[503,-7],[507,-3],[511,-6],[515,-4],[519,-8],[523,-10],[527,-15],[529,-20],[531,-10],[535,-6],[539,-12],[543,-8],[547,-14],[551,-10],[555,-15],[559,-8],[563,-12],[567,-6],[571,-9],[575,-4],[579,-7],[583,-3],[587,-6],[591,-2],[595,-5],[599,-8],[603,-4],[607,-7],[611,-3],[615,-6],[619,0],[621,8],[623,-5],[627,-8],[631,-10],[635,-5],[639,-8],[643,-4],[647,-7],[651,-3],[655,-6],[659,-2],[663,-5],[667,-1],[671,-4],[675,0],[679,-3],[683,-6],[687,-2],[691,-5],[695,-1],[699,-4],[703,-2],[707,-6],[711,-3],[715,-5],[719,-1],[723,-4],[727,0],[731,-3],[735,-6],[739,-2],[743,-5],[747,-1],[751,-4],[755,0],[759,-2],[763,2],[766,5],[769,-1],[773,-4],[777,0],[781,-3],[785,1],[789,-2],[793,2],[797,-3],[801,2],[804,10],[807,5],[810,15],[812,5],[815,57],[817,20],[819,5],[821,10],[823,0],[826,20],[828,-5],[830,-30],[832,5],[834,30],[836,15],[838,5],[840,10],[842,15],[845,25],[848,18],[851,22],[854,12],[857,20],[860,15],[863,5],[866,10],[870,15],[874,20],[877,15],[880,10],[884,5],[888,10],[892,2],[896,8],[900,0],[904,5],[908,-2],[912,3],[916,-4],[920,2],[924,-5],[928,-2],[932,-8],[936,-10],[940,-20],[943,-5],[947,5],[950,-3],[954,0],[958,-5],[962,-2],[966,-6],[970,-3],[974,-1],[977,5],[980,-5],[984,-2],[988,-6],[992,5],[995,-2],[998,-6],[1002,-4],[1006,-8],[1010,-5],[1014,-7],[1018,-5]];

// axis domains and ticks
const timeDomain = [0, 1022];
const yDomainsV1 = [[-22.4, 10.9], [-33, 169], [-281, 119], [-82.6, 94.7]];
const yDomainsV4 = [[-13.3, 25.4], [-27.2, 72.8], [-115, 187], [-94, 59.8]];
const yTicksV1 = [[-20, -10, 0, 10], [0, 50, 100, 150], [-200, -100, 0, 100], [-50, 0, 50]];
const yTicksV4 = [[-10, 0, 10, 20], [-20, 0, 20, 40, 60], [-100, 0, 100], [-50, 0, 50]];

const rawV1 = [v1_b0_raw, v1_bx_raw, v1_by_raw, v1_bz_raw];
const regV1 = [v1_b0_reg, v1_bx_reg, v1_by_reg, v1_bz_reg];
const rawV4 = [v4_b0_raw, v4_bx_raw, v4_by_raw, v4_bz_raw];
const regV4 = [v4_b0_reg, v4_bx_reg, v4_by_reg, v4_bz_reg];

// ---------- layout ----------
const BLUE = "#0072BD", ORANGE = "#D95319", INK = "#262626";
const rowTops = [38, 232, 426, 620];
const FRAME_H = 167;
const fmt = d => String(d);
const chart = d3.select("#chart");

function panel(col, row) {
  const left = col === 0;
  const bottom = row === 3;
  const mt = 10, mb = bottom ? 62 : 10;
  const width = left ? 660 : 649;
  const ml = left ? 99 : 26, mr = left ? 1 : 63;
  const raw = (left ? rawV1 : rawV4)[row].map(([t, v]) => ({t, v}));
  const reg = (left ? regV1 : regV4)[row].map(([t, v]) => ({t, v}));
  const yTicks = (left ? yTicksV1 : yTicksV4)[row];
  const marks = [
    Plot.line(raw, {x: "t", y: "v", stroke: BLUE, strokeWidth: 2.4, strokeLinejoin: "round", clip: true}),
    Plot.line(reg, {x: "t", y: "v", stroke: ORANGE, strokeWidth: 2.4, strokeLinejoin: "round", clip: true}),
    Plot.ruleY([0], {stroke: "#000", strokeWidth: 3}),
    Plot.axisX({ticks: timeTicks, anchor: "bottom", tickSize: 6, dy: -6, tickFormat: () => "", label: null}),
    Plot.axisX({ticks: timeTicks, anchor: "top", tickSize: 6, dy: 6, tickFormat: () => "", label: null}),
    Plot.axisY({ticks: yTicks, anchor: "left", tickSize: 6, dx: 6, tickFormat: () => "", label: null}),
    Plot.axisY({ticks: yTicks, anchor: "right", tickSize: 6, dx: -6, tickFormat: () => "", label: null}),
    Plot.axisY({ticks: yTicks, anchor: left ? "left" : "right", tickSize: 0, tickPadding: left ? 8 : 6, tickFormat: fmt, label: null, fontSize: 19}),
    Plot.frame({stroke: INK, strokeWidth: 1})
  ];
  if (bottom) marks.push(Plot.axisX({ticks: timeTicks, anchor: "bottom", tickSize: 0, tickPadding: 6, tickFormat: fmt, label: null, fontSize: 19}));
  const svg = Plot.plot({
    width, height: FRAME_H + mt + mb,
    marginTop: mt, marginBottom: mb, marginLeft: ml, marginRight: mr,
    style: {fontFamily: "DejaVu Sans", fontSize: "19px", color: INK, background: "transparent", overflow: "visible"},
    x: {domain: timeDomain},
    y: {domain: (left ? yDomainsV1 : yDomainsV4)[row]},
    marks
  });
  svg.style.left = (left ? 0 : 660) + "px";
  svg.style.top = (rowTops[row] - mt) + "px";
  chart.node().appendChild(svg);
  const s = d3.select(svg);
  const cx = ml + (width - ml - mr) / 2;
  if (row === 0) {
    s.append("text").attr("x", cx).attr("y", mt - 11).attr("text-anchor", "middle")
      .attr("font-family", "DejaVu Sans").attr("font-weight", "bold").attr("font-size", 21).attr("fill", "#000")
      .text(volunteers[col]);
  }
  if (bottom) {
    s.append("text").attr("x", cx).attr("y", mt + FRAME_H + 50).attr("text-anchor", "middle")
      .attr("font-family", "DejaVu Sans").attr("font-size", 21).attr("fill", INK).text("Time [s]");
  }
  if (left) {
    const [sub, unit] = yLabels[row];
    const t = s.append("text")
      .attr("transform", `translate(39,${mt + FRAME_H / 2}) rotate(-90)`)
      .attr("text-anchor", "middle").attr("font-family", "DejaVu Sans").attr("font-size", 21).attr("fill", INK);
    t.append("tspan").attr("font-style", "italic").text("δβ");
    t.append("tspan").attr("font-size", 15).attr("dy", 6).text(sub);
    t.append("tspan").attr("dy", -6).text("\u00a0[" + unit + "]");
  }
}

for (let row = 0; row < 4; row++) { panel(0, row); panel(1, row); }

// legend (inside Volunteer 4, first row)
const lg = chart.append("svg").attr("width", 1309).attr("height", 847).style("left", "0px").style("top", "0px")
  .style("pointer-events", "none");
lg.append("rect").attr("x", 704.5).attr("y", 52.5).attr("width", 316).attr("height", 47)
  .attr("fill", "#fff").attr("stroke", INK).attr("stroke-width", 1);
seriesNames.forEach((name, i) => {
  const y = 66 + i * 21.5;
  lg.append("line").attr("x1", 712).attr("x2", 760).attr("y1", y).attr("y2", y)
    .attr("stroke", i === 0 ? BLUE : ORANGE).attr("stroke-width", 2.5);
  lg.append("text").attr("x", 764).attr("y", y + 6).attr("font-family", "DejaVu Sans")
    .attr("font-size", 17.5).attr("fill", "#000").text(name);
});
</script></body></html>
